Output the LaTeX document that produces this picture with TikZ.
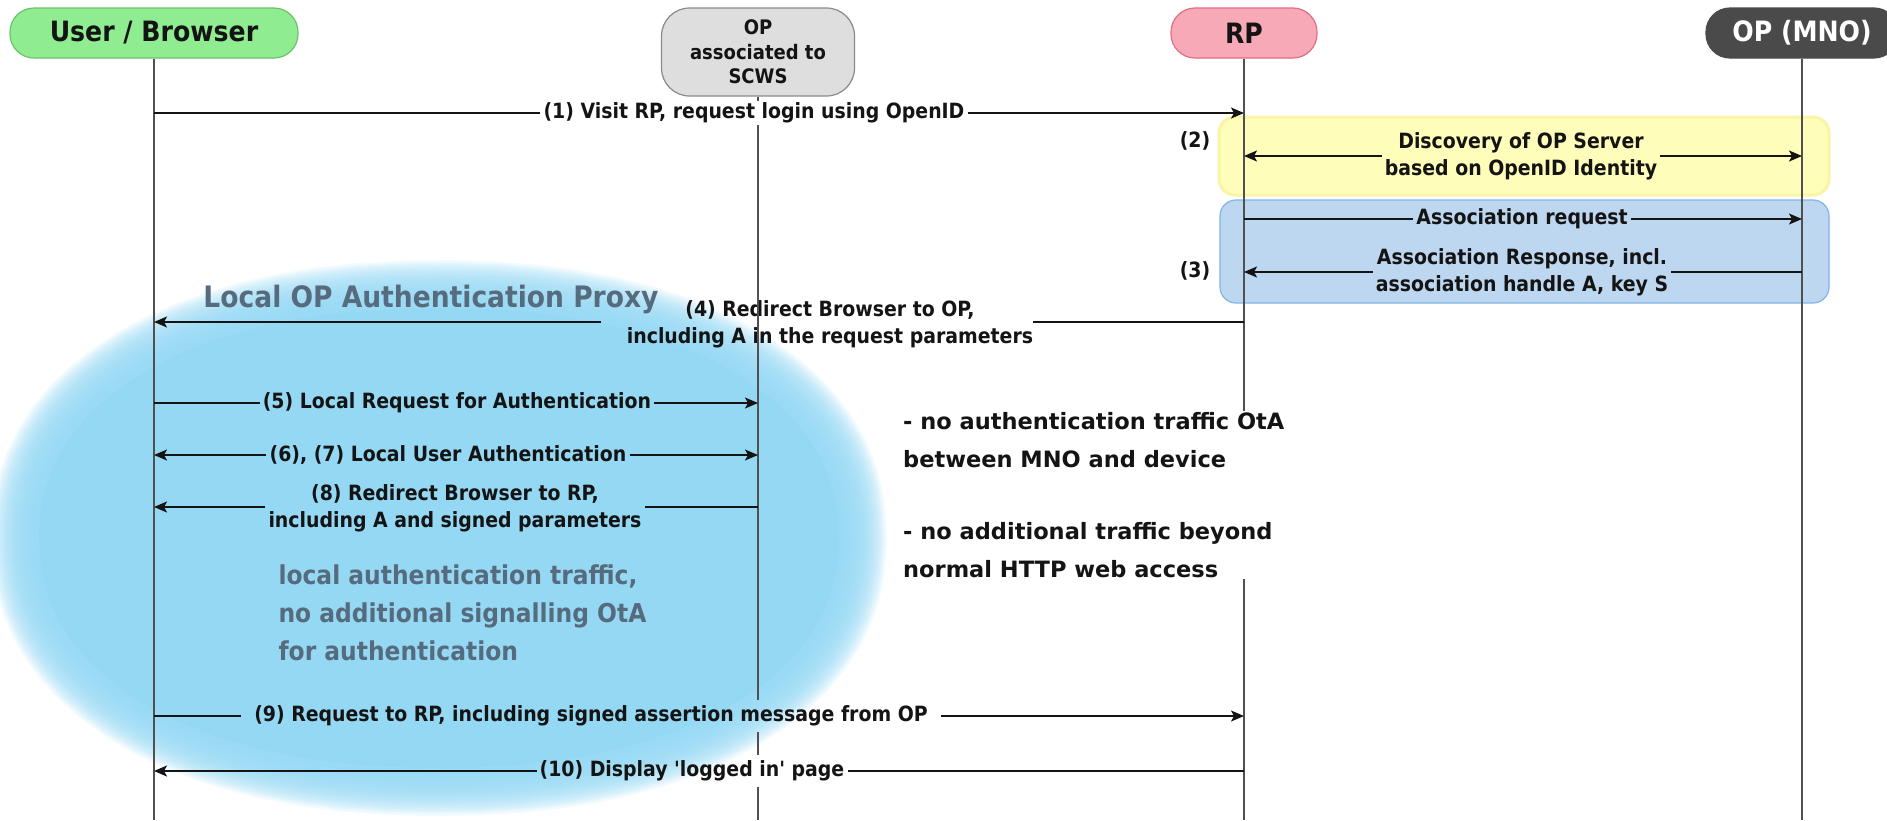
\documentclass[tikz,border=0pt]{standalone}
\usepackage{fontspec}
\setmainfont{DejaVu Sans}
\newfontfamily\condf{DejaVu Sans Condensed}
\usetikzlibrary{arrows.meta,calc}

\definecolor{ink}{HTML}{141414}
\definecolor{lifegray}{HTML}{505050}
\definecolor{cloudblue}{HTML}{95D8F4}
\definecolor{proxytext}{HTML}{566B7D}
\definecolor{userfill}{HTML}{90EC90}
\definecolor{userline}{HTML}{6CC26C}
\definecolor{scwsfill}{HTML}{DEDEDE}
\definecolor{scwsline}{HTML}{8A8A8A}
\definecolor{rpfill}{HTML}{F8A9B8}
\definecolor{rpline}{HTML}{E06F80}
\definecolor{mnofill}{HTML}{4A4A4A}
\definecolor{yelfill}{HTML}{FFFDBA}
\definecolor{yelline}{HTML}{FAF5A6}
\definecolor{bluefill}{HTML}{BDD7F1}
\definecolor{blueline}{HTML}{80B5E6}

\begin{document}
\begin{tikzpicture}[x=1pt,y=-1pt,
  hdr/.style={draw, line width=1.2, inner sep=0, align=center, text=ink,
    font=\condf\bfseries\fontsize{28}{30}\selectfont},
  lbl/.style={inner xsep=3, inner ysep=2, align=center, text=ink,
    font=\condf\bfseries\fontsize{21}{27}\selectfont},
  msg/.style={draw=ink, line width=1.7},
  tip/.style={-{Stealth[length=13pt,width=11pt,inset=3pt]}},
  life/.style={draw=lifegray, line width=1.1},
  bigtext/.style={text=proxytext, align=left,
    font=\condf\bfseries\fontsize{29.5}{38}\selectfont},
  note/.style={text=ink, align=left, fill=white, inner sep=2,
    font=\bfseries\fontsize{22.5}{37.5}\selectfont}]
\useasboundingbox (0,0) rectangle (1887,820);
\clip (0,0) rectangle (1887,820);

% local proxy zone: a rounded blob with a soft rim built from thin translucent layers
\foreach \k in {0,...,29}{
  \pgfmathsetmacro{\rx}{448-1.6*\k}
  \pgfmathsetmacro{\ry}{278-1.6*\k}
  \fill[cloudblue, opacity=0.1] plot[domain=1:356, samples=72]
    ({439+\rx*cos(\x)*abs(cos(\x))^(-0.09)}, {538+\ry*sin(\x)*abs(sin(\x))^(-0.09)}) -- cycle;
}
\fill[cloudblue] plot[domain=1:356, samples=72]
  ({439+400*cos(\x)*abs(cos(\x))^(-0.09)}, {538+230*sin(\x)*abs(sin(\x))^(-0.09)}) -- cycle;

% discovery and association groups
\draw[fill=yelfill, draw=yelline, line width=3, rounded corners=16] (1219,117) rectangle (1829,195);
\draw[fill=bluefill, draw=blueline, line width=1.2, rounded corners=16] (1220,200) rectangle (1829,303);

% participants
\node[hdr, fill=userfill, draw=userline, rounded corners=24, minimum width=288, minimum height=50] (user) at (154,33) {User / Browser};
\node[hdr, fill=scwsfill, draw=scwsline, rounded corners=28, minimum width=193, minimum height=88,
  font=\condf\bfseries\fontsize{20}{24.5}\selectfont] (scws) at (758,52) {OP\\associated to\\SCWS};
\node[hdr, fill=rpfill, draw=rpline, rounded corners=24, minimum width=146, minimum height=50] (rp) at (1244,33) {RP};
\node[hdr, fill=mnofill, draw=mnofill, text=white, rounded corners=24, minimum width=192, minimum height=50] (mno) at (1802,33) {OP (MNO)};

% message labels
\node[lbl] (l1) at (754,113) {(1) Visit RP, request login using OpenID};
\node[lbl] (n2) at (1195,141) {(2)};
\node[lbl] (l2) at (1521,156) {Discovery of OP Server\\based on OpenID Identity};
\node[lbl] (la) at (1522,219) {Association request};
\node[lbl] (n3) at (1195,271) {(3)};
\node[lbl] (lr) at (1522,272) {Association Response, incl.\\association handle A, key S};
\node[lbl, inner sep=0] (l4) at (830,324) {(4) Redirect Browser to OP,\\including A in the request parameters};
\node[lbl] (l5) at (457,403) {(5) Local Request for Authentication};
\node[lbl] (l67) at (448,455) {(6), (7) Local User Authentication};
\node[lbl] (l8) at (455,508) {(8) Redirect Browser to RP,\\including A and signed parameters};
\node[lbl, inner xsep=13, inner ysep=6] (l9) at (591,716) {(9) Request to RP, including signed assertion message from OP};
\node[lbl, inner ysep=6] (l10) at (692,771) {(10) Display 'logged in' page};

% lifelines
\draw[life] (user.south) -- (user |- 0,820);
\draw[life] (scws.south) -- (scws |- l1.north);
\draw[life] (scws |- l1.south) -- (scws |- l9.north);
\draw[life] (scws |- l9.south) -- (scws |- l10.north);
\draw[life] (scws |- l10.south) -- (scws |- 0,820);
\draw[life] (rp.south) -- (rp |- 0,820);
\draw[life] (mno.south) -- (mno |- 0,820);

% messages
\draw[msg] (user |- l1) -- (l1);
\draw[msg,tip] (l1) -- (rp |- l1);
\draw[msg,tip] (l2) -- (rp |- l2);
\draw[msg,tip] (l2) -- (mno |- l2);
\draw[msg] (rp |- la) -- (la);
\draw[msg,tip] (la) -- (mno |- la);
\draw[msg] (mno |- lr) -- (lr);
\draw[msg,tip] (lr) -- (rp |- lr);
\draw[msg] (rp |- 0,322) -- (l4.east |- 0,322);
\draw[msg,tip] ($(l4.west |- 0,322)+(-26,0)$) -- (user |- 0,322);
\draw[msg] (user |- l5) -- (l5);
\draw[msg,tip] (l5) -- (scws |- l5);
\draw[msg,tip] (l67) -- (user |- l67);
\draw[msg,tip] (l67) -- (scws |- l67);
\draw[msg] (scws |- 0,507) -- (l8.east |- 0,507);
\draw[msg,tip] (l8.west |- 0,507) -- (user |- 0,507);
\draw[msg] (user |- l9) -- (l9);
\draw[msg,tip] (l9) -- (rp |- l9);
\draw[msg] (rp |- l10) -- (l10);
\draw[msg,tip] (l10) -- (user |- l10);

% annotations
\node[bigtext] (proxy) at (431,299) {Local OP Authentication Proxy};
\node[bigtext, anchor=west, font=\condf\bfseries\fontsize{26}{38}\selectfont] (local) at (275,613)
  {local authentication traffic,\\no additional signalling OtA\\for authentication};
\node[note, anchor=west] (notes) at (901,495)
  {- no authentication traffic OtA\\between MNO and device\\[35pt]- no additional traffic beyond\\normal HTTP web access};
\end{tikzpicture}
\end{document}
